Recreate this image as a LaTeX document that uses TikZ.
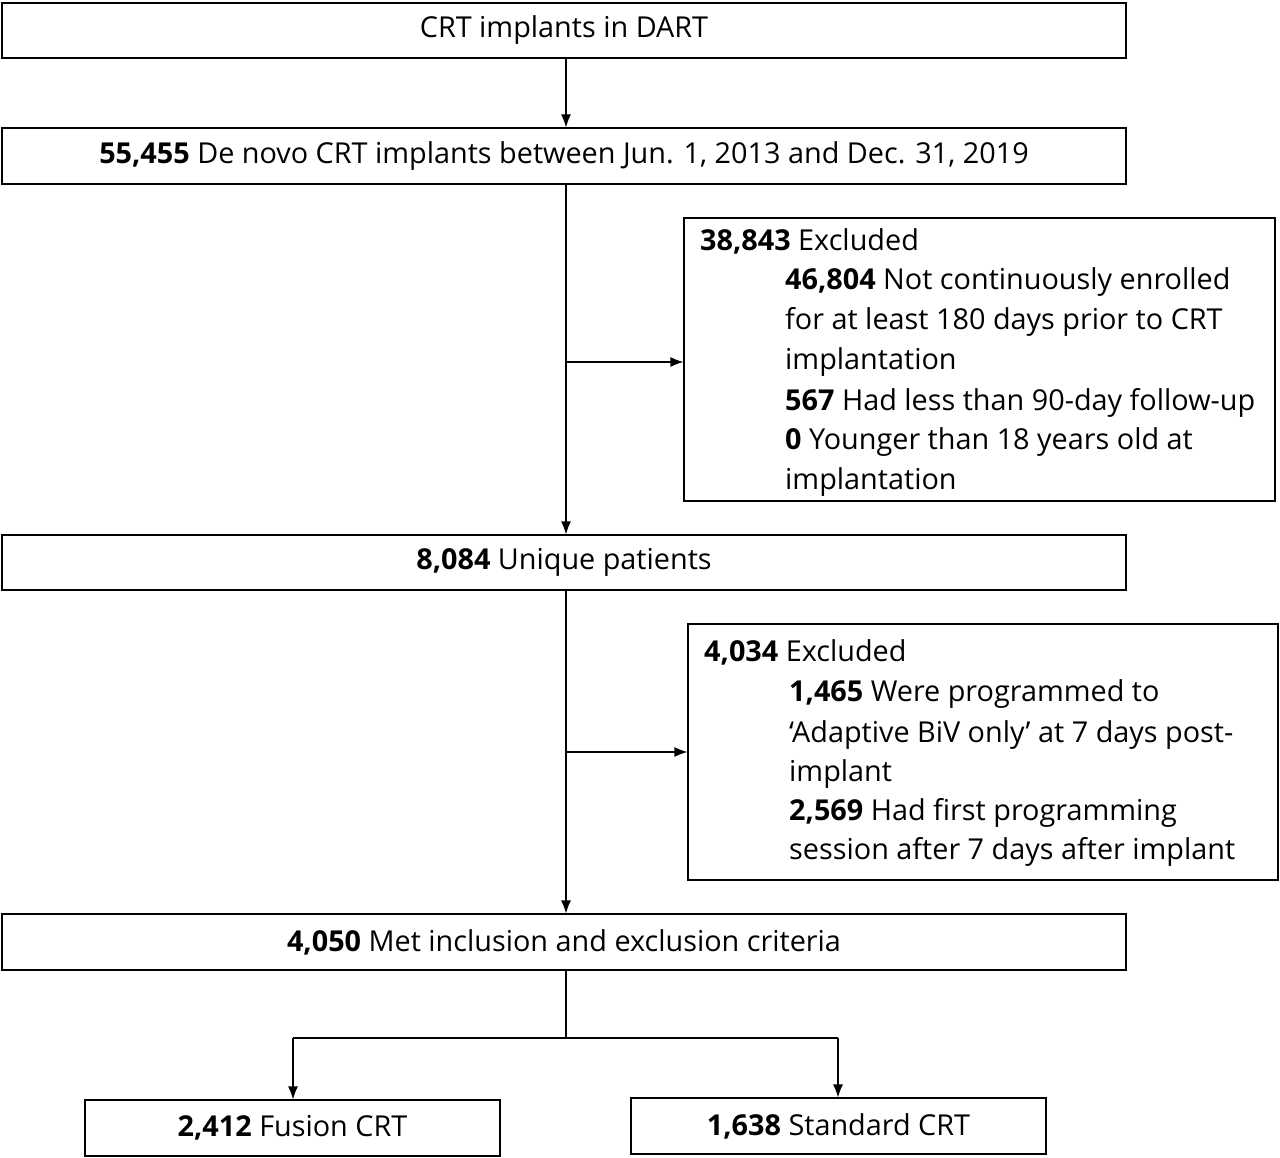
\documentclass[tikz,border=0pt]{standalone}
\usepackage{fontspec}
\setmainfont{Open Sans}
\begin{document}
\begin{tikzpicture}[x=1pt,y=-1pt,
  box/.style={draw,line width=1.2pt,inner sep=0pt},
  arr/.style={line width=1.2pt,-{Latex[length=13pt,width=10pt]}},
  ln/.style={line width=1.2pt},
  tx/.style={anchor=base west,inner sep=0pt},
  every node/.style={font=\fontsize{28.8}{34}\selectfont}]
\usetikzlibrary{arrows.meta}
\useasboundingbox (0,0) rectangle (1280,1158);
\node[box,minimum width=1124pt,minimum height=55pt] (b1) at (564,30.5) {CRT implants in DART};
\node[box,minimum width=1124pt,minimum height=56pt] (b2) at (564,156) {\textbf{55,455} De novo CRT implants between Jun. 1, 2013 and Dec. 31, 2019};
\node[box,minimum width=591pt,minimum height=283pt] (b3) at (979.5,359.5) {};
\node[tx] (t31) at (700,251) {\textbf{38,843} Excluded};
\node[tx] (t32) at (785,290) {\textbf{46,804} Not continuously enrolled};
\node[tx] (t33) at (785,330) {for at least 180 days prior to CRT};
\node[tx] (t34) at (785,370) {implantation};
\node[tx] (t35) at (785,410) {\textbf{567} Had less than 90-day follow-up};
\node[tx] (t36) at (785,449) {\textbf{0} Younger than 18 years old at};
\node[tx] (t37) at (785,489) {implantation};
\node[box,minimum width=1124pt,minimum height=55pt] (b4) at (564,562.5) {\textbf{8,084} Unique patients};
\node[box,minimum width=590pt,minimum height=256pt] (b5) at (983,752) {};
\node[tx] (t51) at (704,661) {\textbf{4,034} Excluded};
\node[tx] (t52) at (789,701) {\textbf{1,465} Were programmed to};
\node[tx] (t53) at (789,742) {‘Adaptive BiV only’ at 7 days post-};
\node[tx] (t54) at (789,781) {implant};
\node[tx] (t55) at (789,820) {\textbf{2,569} Had first programming};
\node[tx] (t56) at (789,859) {session after 7 days after implant};
\node[box,minimum width=1124pt,minimum height=56pt] (b6) at (564,942) {\textbf{4,050} Met inclusion and exclusion criteria};
\node[box,minimum width=415pt,minimum height=56pt] (b7) at (292.5,1128) {\textbf{2,412} Fusion CRT};
\node[box,minimum width=415pt,minimum height=56pt] (b8) at (838.5,1126) {\textbf{1,638} Standard CRT};
\coordinate (j1) at (566,362);
\coordinate (j2) at (566,752);
\coordinate (j3) at (566,1038);
\coordinate (l3) at (293,1038);
\coordinate (r3) at (838,1038);
\draw[arr] (b1.south -| j1) -- (b2.north -| j1);
\draw[arr] (b2.south -| j1) -- (b4.north -| j1);
\draw[arr] (j1) -- (j1 -| b3.west);
\draw[arr] (b4.south -| j2) -- (b6.north -| j2);
\draw[arr] (j2) -- (j2 -| b5.west);
\draw[ln] (b6.south -| j3) -- (j3);
\draw[ln] (l3) -- (r3);
\draw[arr] (l3) -- (b7.north -| l3);
\draw[arr] (r3) -- (b8.north -| r3);
\end{tikzpicture}
\end{document}
